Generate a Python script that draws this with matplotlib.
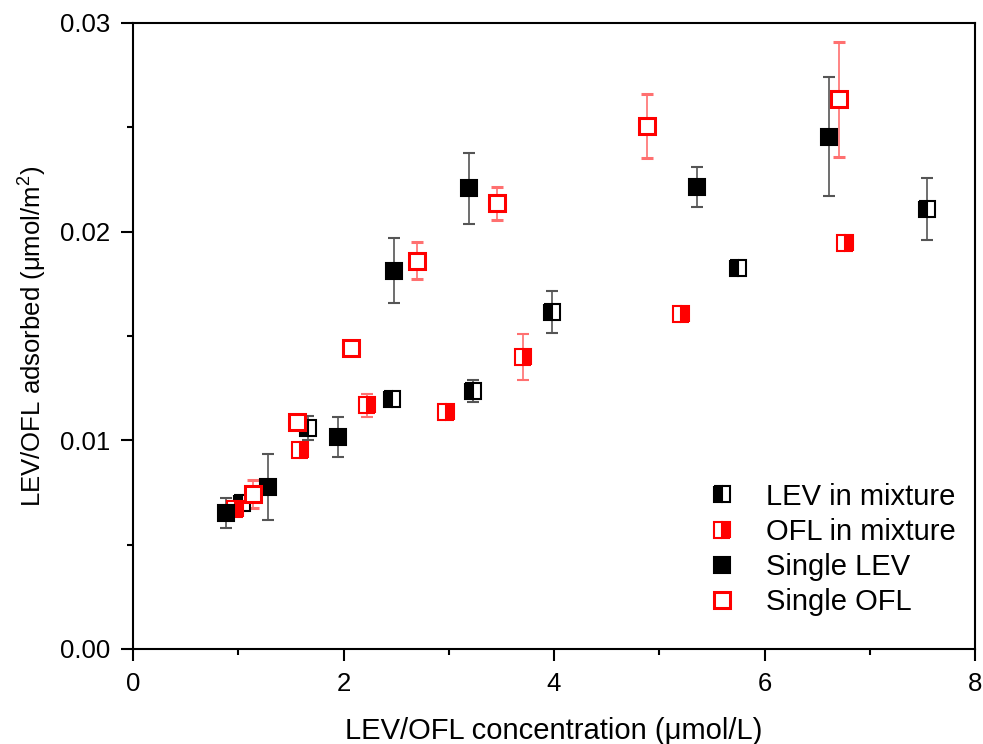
import matplotlib
matplotlib.use("Agg")
import matplotlib.pyplot as plt
from matplotlib.ticker import MultipleLocator

plt.rcParams['font.family'] = ['Liberation Sans', 'DejaVu Sans']
plt.rcParams['mathtext.default'] = 'regular'

# LEV in mixture
lev_mix_x = [1.04, 1.66, 2.46, 3.23, 3.98, 5.75, 7.54]
lev_mix_y = [0.0070, 0.01059, 0.01196, 0.01236, 0.01616, 0.01826, 0.02108]
lev_mix_err = [0.0003, 0.00058, 0.0002, 0.00054, 0.0010, 0.0002, 0.00147]

# OFL in mixture
ofl_mix_x = [0.97, 1.59, 2.22, 2.97, 3.71, 5.21, 6.76]
ofl_mix_y = [0.0067, 0.00954, 0.01168, 0.01134, 0.01401, 0.01607, 0.01947]
ofl_mix_err = [0.0003, 0.0003, 0.00054, 0.0002, 0.0011, 0.0002, 0.0002]

# Single LEV
lev_x = [0.88, 1.28, 1.95, 2.48, 3.19, 5.36, 6.61]
lev_y = [0.00652, 0.00776, 0.01016, 0.01813, 0.02207, 0.02212, 0.02455]
lev_err = [0.0007, 0.0016, 0.00095, 0.00156, 0.0017, 0.00096, 0.00284]

# Single OFL
ofl_x = [1.14, 1.56, 2.07, 2.70, 3.46, 4.88, 6.71]
ofl_y = [0.00743, 0.01089, 0.01444, 0.01861, 0.02135, 0.02507, 0.02634]
ofl_err = [0.00068, 0.0003, 0.0002, 0.0009, 0.00078, 0.00154, 0.00275]

fig = plt.figure(figsize=(9.83, 7.44), dpi=100)
ax = fig.add_axes([0.1353, 0.1277, 0.8566, 0.8414])

ms = 12
h1 = ax.errorbar(lev_mix_x, lev_mix_y, yerr=lev_mix_err, fmt='s', ms=ms,
                 fillstyle='left', mfc='black', markerfacecoloralt='white',
                 mec='black', mew=1.5, ecolor='#555555', elinewidth=1.2,
                 capsize=4.5, capthick=1.2)
h2 = ax.errorbar(ofl_mix_x, ofl_mix_y, yerr=ofl_mix_err, fmt='s', ms=ms,
                 fillstyle='right', mfc='red', markerfacecoloralt='white',
                 mec='red', mew=1.5, ecolor='#ff7070', elinewidth=1.2,
                 capsize=4.5, capthick=1.2)
h3 = ax.errorbar(lev_x, lev_y, yerr=lev_err, fmt='s', ms=ms,
                 mfc='black', mec='black', mew=1.5, ecolor='#555555',
                 elinewidth=1.2, capsize=4.5, capthick=1.2)
h4 = ax.errorbar(ofl_x, ofl_y, yerr=ofl_err, fmt='s', ms=ms,
                 mfc='white', mec='red', mew=2.2, ecolor='#ff7070',
                 elinewidth=1.2, capsize=4.5, capthick=1.2)

ax.set_xlim(0, 8)
ax.set_ylim(0, 0.03)
ax.xaxis.set_major_locator(MultipleLocator(2))
ax.xaxis.set_minor_locator(MultipleLocator(1))
ax.yaxis.set_major_locator(MultipleLocator(0.01))
ax.yaxis.set_minor_locator(MultipleLocator(0.005))
ax.yaxis.set_major_formatter(plt.FormatStrFormatter('%.2f'))
ax.tick_params(which='both', direction='out', top=False, right=False,
               width=1.5, labelsize=18.5, pad=8)
ax.tick_params(which='major', length=8.5)
ax.tick_params(which='minor', length=4.3)
for s in ax.spines.values():
    s.set_linewidth(1.5)

ax.set_xlabel('LEV/OFL concentration (μmol/L)', fontsize=21, labelpad=15)
ax.set_ylabel('LEV/OFL adsorbed (μmol/m$^2$)', fontsize=18.5, labelpad=8)

ax.legend([h1[0], h2[0], h3[0], h4[0]],
          ['LEV in mixture', 'OFL in mixture', 'Single LEV', 'Single OFL'],
          loc='lower right', bbox_to_anchor=(1.008, 0.01), frameon=False,
          fontsize=21, handlelength=1.0, handletextpad=1.0,
          labelspacing=0.25, markerscale=1.0)

fig.savefig('out.png', dpi=100)
